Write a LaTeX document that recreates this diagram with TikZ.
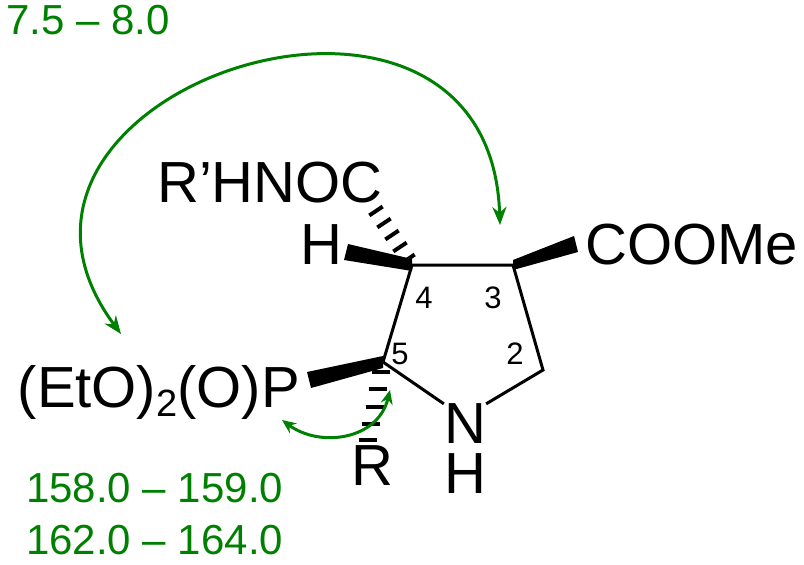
\documentclass[tikz,border=0pt]{standalone}
\usepackage{fontspec}
\setmainfont{Liberation Sans}
\usetikzlibrary{arrows.meta,calc}
\begin{document}
\begin{tikzpicture}[x=1pt,y=-1pt,
 bond/.style={line width=3pt},
 lab/.style={font=\fontsize{58}{58}\selectfont,inner sep=0pt},
 num/.style={font=\fontsize{31}{31}\selectfont,inner sep=0pt},
 glab/.style={font=\fontsize{42}{42}\selectfont,text=green!50!black,inner sep=0pt,anchor=west},
 garr/.style={line width=3pt,draw=green!50!black}]
\useasboundingbox (0,0) rectangle (804,565);
\coordinate (c4) at (412,265);
\coordinate (c3) at (513,265);
\coordinate (c2) at (543,370);
\coordinate (c5) at (383,362);
\coordinate (hx) at (372,205);
\coordinate (rx) at (368,442);
\node[lab] (n) at (465,424) {N};
\node[lab] (nh) at (465,474) {H};
\node[lab,anchor=west] (coome) at (585,245) {COOMe};
\node[lab] (h) at (321,245) {H};
\node[lab] (rh) at (270,183) {R{\char"27}HNOC};
\node[lab,anchor=east] (p) at (300,392) {(EtO)\raisebox{-0.3ex}{\fontsize{38}{38}\selectfont 2}(O)P};
\node[lab] (r) at (372,466) {R};
\node[num] at (424,298) {4};
\node[num] at (493,298) {3};
\node[num] at (400,354) {5};
\node[num] at (515,354) {2};
\draw[bond] (c4)--(c3)--(c2)--(n.north east);
\draw[bond] (n.north west)--(c5)--(c4);
\fill (c3)++(0,-5) -- ++(0,10) -- (578,252) -- (574,236) -- cycle;
\fill (c4)++(0,-6) -- ++(0,12) -- (344,260) -- (348,244) -- cycle;
\fill (c5)++(0,-6) -- ++(0,12) -- (311,388) -- (307,372) -- cycle;
\foreach \t in {0.1,0.3,0.5,0.7,0.9}{
 \draw[line width=4pt] ($(c4)!\t!(hx)!8pt!90:(hx)$) -- ($(c4)!\t!(hx)!8pt!-90:(hx)$);}
\foreach \t in {0.12,0.34,0.56,0.78,0.98}{
 \draw[line width=4pt] ($(c5)!\t!(rx)$) ++(-9,0) -- ++(18,0);}
\draw[garr,{Stealth[length=18pt,width=14pt]}-{Stealth[length=18pt,width=14pt]}] (121,334) .. controls (-60,90) and (490,-90) .. (500,225);
\draw[garr,{Stealth[length=14pt,width=12pt]}-{Stealth[length=14pt,width=12pt]}] (282,420) .. controls (320,448) and (378,440) .. (390,390);
\node[glab] at (6,20) {7.5 -- 8.0};
\node[glab] at (26,488) {158.0 -- 159.0};
\node[glab] at (26,540) {162.0 -- 164.0};
\end{tikzpicture}
\end{document}
